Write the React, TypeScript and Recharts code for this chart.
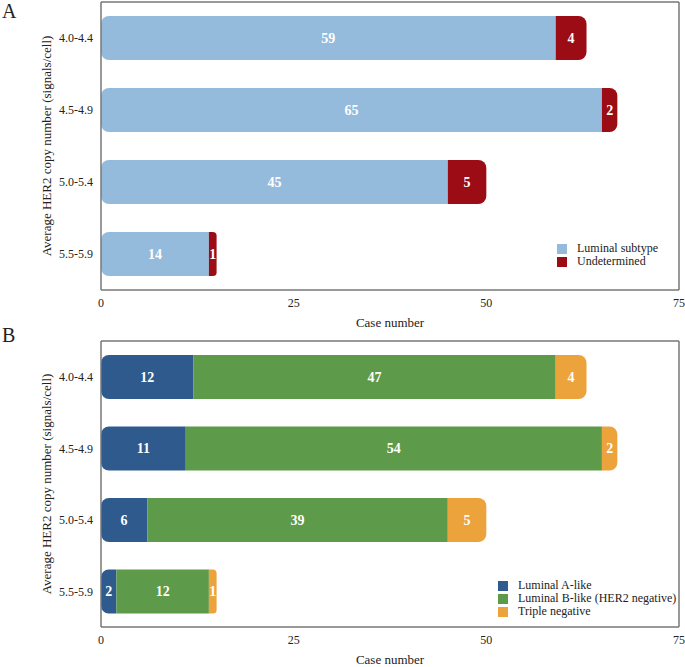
import { BarChart, Bar, XAxis, YAxis, LabelList } from 'recharts'

const categories = ['4.0-4.4', '4.5-4.9', '5.0-5.4', '5.5-5.9']
const xTicks = [0, 25, 50, 75]

// panel A
const luminal = [59, 65, 45, 14]
const undetermined = [4, 2, 5, 1]

// panel B
const luminalA = [12, 11, 6, 2]
const luminalB = [47, 54, 39, 12]
const tripleNeg = [4, 2, 5, 1]

const FONT = '"Liberation Serif", "Times New Roman", serif'
const FRAME = '#777'

const seriesA = [
  { key: 'luminal', name: 'Luminal subtype', color: '#94bbdc', values: luminal },
  { key: 'undetermined', name: 'Undetermined', color: '#9b0c14', values: undetermined },
]

const seriesB = [
  { key: 'lumA', name: 'Luminal A-like', color: '#2e5a8e', values: luminalA },
  { key: 'lumB', name: 'Luminal B-like (HER2 negative)', color: '#5d9a4a', values: luminalB },
  { key: 'triple', name: 'Triple negative', color: '#eca33c', values: tripleNeg },
]

type Series = { key: string; name: string; color: string; values: number[] }

function buildRows(series: Series[]) {
  return categories.map((cat, i) => {
    const row: Record<string, string | number> = { cat }
    series.forEach((s) => {
      row[s.key] = s.values[i]
    })
    return row
  })
}

function LegendBox({ series, left, top }: { series: Series[]; left: number; top: number }) {
  return (
    <div style={{ position: 'absolute', left, top, fontSize: 12, color: '#222', lineHeight: '13px' }}>
      {series.map((s) => (
        <div key={s.key} style={{ display: 'flex', alignItems: 'center', whiteSpace: 'nowrap' }}>
          <span style={{ width: 10, height: 10, background: s.color, display: 'inline-block', marginRight: 10 }} />
          <span>{s.name}</span>
        </div>
      ))}
    </div>
  )
}

function Panel({ series, height, top }: { series: Series[]; height: number; top: number }) {
  const data = buildRows(series)
  const r = 8
  return (
    <BarChart
      width={685}
      height={height}
      data={data}
      layout="vertical"
      margin={{ top, right: 5, bottom: 0, left: 0 }}
      barSize={44}
    >
      <XAxis
        type="number"
        domain={[0, 75]}
        ticks={xTicks}
        tickLine={false}
        axisLine={{ stroke: FRAME, strokeWidth: 1.5 }}
        tick={{ fill: '#222', fontSize: 12 }}
        height={40}
        label={{ value: 'Case number', position: 'insideBottom', offset: 3, fill: '#222', fontSize: 13 }}
      />
      <XAxis
        xAxisId="top"
        orientation="top"
        type="number"
        domain={[0, 75]}
        tick={false}
        tickLine={false}
        height={1}
        axisLine={{ stroke: FRAME, strokeWidth: 1.5 }}
      />
      <YAxis
        type="category"
        dataKey="cat"
        width={101}
        tickLine={false}
        tickMargin={2}
        axisLine={{ stroke: FRAME, strokeWidth: 1.5 }}
        tick={{ fill: '#222', fontSize: 12 }}
        label={{
          value: 'Average HER2 copy number (signals/cell)',
          angle: -90,
          position: 'center',
          dx: -4,
          fill: '#222',
          fontSize: 13,
        }}
      />
      <YAxis
        yAxisId="right"
        orientation="right"
        type="category"
        dataKey="cat"
        width={1}
        tick={false}
        tickLine={false}
        axisLine={{ stroke: FRAME, strokeWidth: 1.5 }}
      />
      {series.map((s, idx) => {
        const first = idx === 0
        const last = idx === series.length - 1
        const radius: [number, number, number, number] = [first ? r : 0, last ? r : 0, last ? r : 0, first ? r : 0]
        return (
          <Bar
            key={s.key}
            dataKey={s.key}
            name={s.name}
            stackId="a"
            fill={s.color}
            radius={radius}
            isAnimationActive={false}
          >
            <LabelList dataKey={s.key} position="center" fill="#fff" fontSize={14} fontWeight="bold" />
          </Bar>
        )
      })}
    </BarChart>
  )
}

export default function App() {
  return (
    <div
      style={{
        position: 'absolute',
        left: 0,
        top: 0,
        width: 685,
        height: 667,
        background: '#fff',
        fontFamily: FONT,
        color: '#222',
      }}
    >
      <div style={{ position: 'absolute', left: 0, top: 0 }}>
        <Panel series={seriesA} height={330} top={1} />
        <LegendBox series={seriesA} left={557} top={242} />
      </div>
      <div style={{ position: 'absolute', left: 0, top: 330 }}>
        <Panel series={seriesB} height={337} top={10} />
        <LegendBox series={seriesB} left={498} top={249} />
      </div>
      <div style={{ position: 'absolute', left: 2, top: 0, fontSize: 20 }}>A</div>
      <div style={{ position: 'absolute', left: 2, top: 324, fontSize: 20 }}>B</div>
    </div>
  )
}
